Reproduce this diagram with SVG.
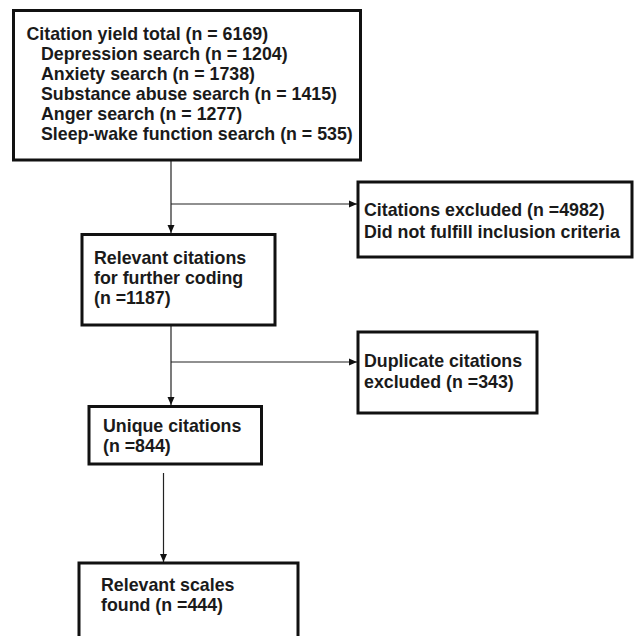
<svg xmlns="http://www.w3.org/2000/svg" width="635" height="636" viewBox="0 0 635 636">
<style>
.box{fill:#fff;stroke:#111;stroke-width:3}
.t{font-family:"Liberation Sans",Arial,sans-serif;font-weight:bold;font-size:17.8px;fill:#1a1a1a}
.c{stroke:#222;stroke-width:1.2;fill:none}
</style>
<defs>
<marker id="ah" viewBox="0 0 8 8" refX="8" refY="4" markerWidth="8" markerHeight="8" markerUnits="userSpaceOnUse" orient="auto">
<path d="M0,0.5 L8,4 L0,7.5 Z" fill="#111"/>
</marker>
</defs>
<rect width="635" height="636" fill="#fff"/>
<g id="connectors">
<line class="c" x1="171" y1="160" x2="171" y2="233" marker-end="url(#ah)"/>
<line class="c" x1="171" y1="204" x2="357" y2="204" marker-end="url(#ah)"/>
<line class="c" x1="171" y1="325" x2="171" y2="405" marker-end="url(#ah)"/>
<line class="c" x1="171" y1="362" x2="357" y2="362" marker-end="url(#ah)"/>
<line class="c" x1="163.5" y1="473" x2="163.5" y2="562" marker-end="url(#ah)"/>
</g>
<g id="total">
<rect class="box" x="13.5" y="10.5" width="347" height="149.5"/>
<text class="t" x="26.5" y="40">Citation yield total (n = 6169)</text>
<text class="t" x="41" y="60">Depression search (n = 1204)</text>
<text class="t" x="41" y="80">Anxiety search (n = 1738)</text>
<text class="t" x="41" y="100">Substance abuse search (n = 1415)</text>
<text class="t" x="41" y="120">Anger search (n = 1277)</text>
<text class="t" x="41" y="140">Sleep-wake function search (n = 535)</text>
</g>
<g id="excluded">
<rect class="box" x="358" y="182" width="274" height="75"/>
<text class="t" x="364" y="216">Citations excluded (n =4982)</text>
<text class="t" x="364" y="237.5">Did not fulfill inclusion criteria</text>
</g>
<g id="relevant">
<rect class="box" x="82" y="234.5" width="193" height="90.5"/>
<text class="t" x="94" y="263.5">Relevant citations</text>
<text class="t" x="94" y="283.5">for further coding</text>
<text class="t" x="94" y="303.5">(n =1187)</text>
</g>
<g id="duplicate">
<rect class="box" x="358" y="332" width="179" height="81"/>
<text class="t" x="364" y="366.5">Duplicate citations</text>
<text class="t" x="364" y="388">excluded (n =343)</text>
</g>
<g id="unique">
<rect class="box" x="89" y="406.5" width="172.5" height="57.5"/>
<text class="t" x="103" y="431.5">Unique citations</text>
<text class="t" x="103" y="451.5">(n =844)</text>
</g>
<g id="scales">
<rect class="box" x="79" y="563" width="219" height="90"/>
<text class="t" x="101" y="590.5">Relevant scales</text>
<text class="t" x="101" y="610.5">found (n =444)</text>
</g>
</svg>
